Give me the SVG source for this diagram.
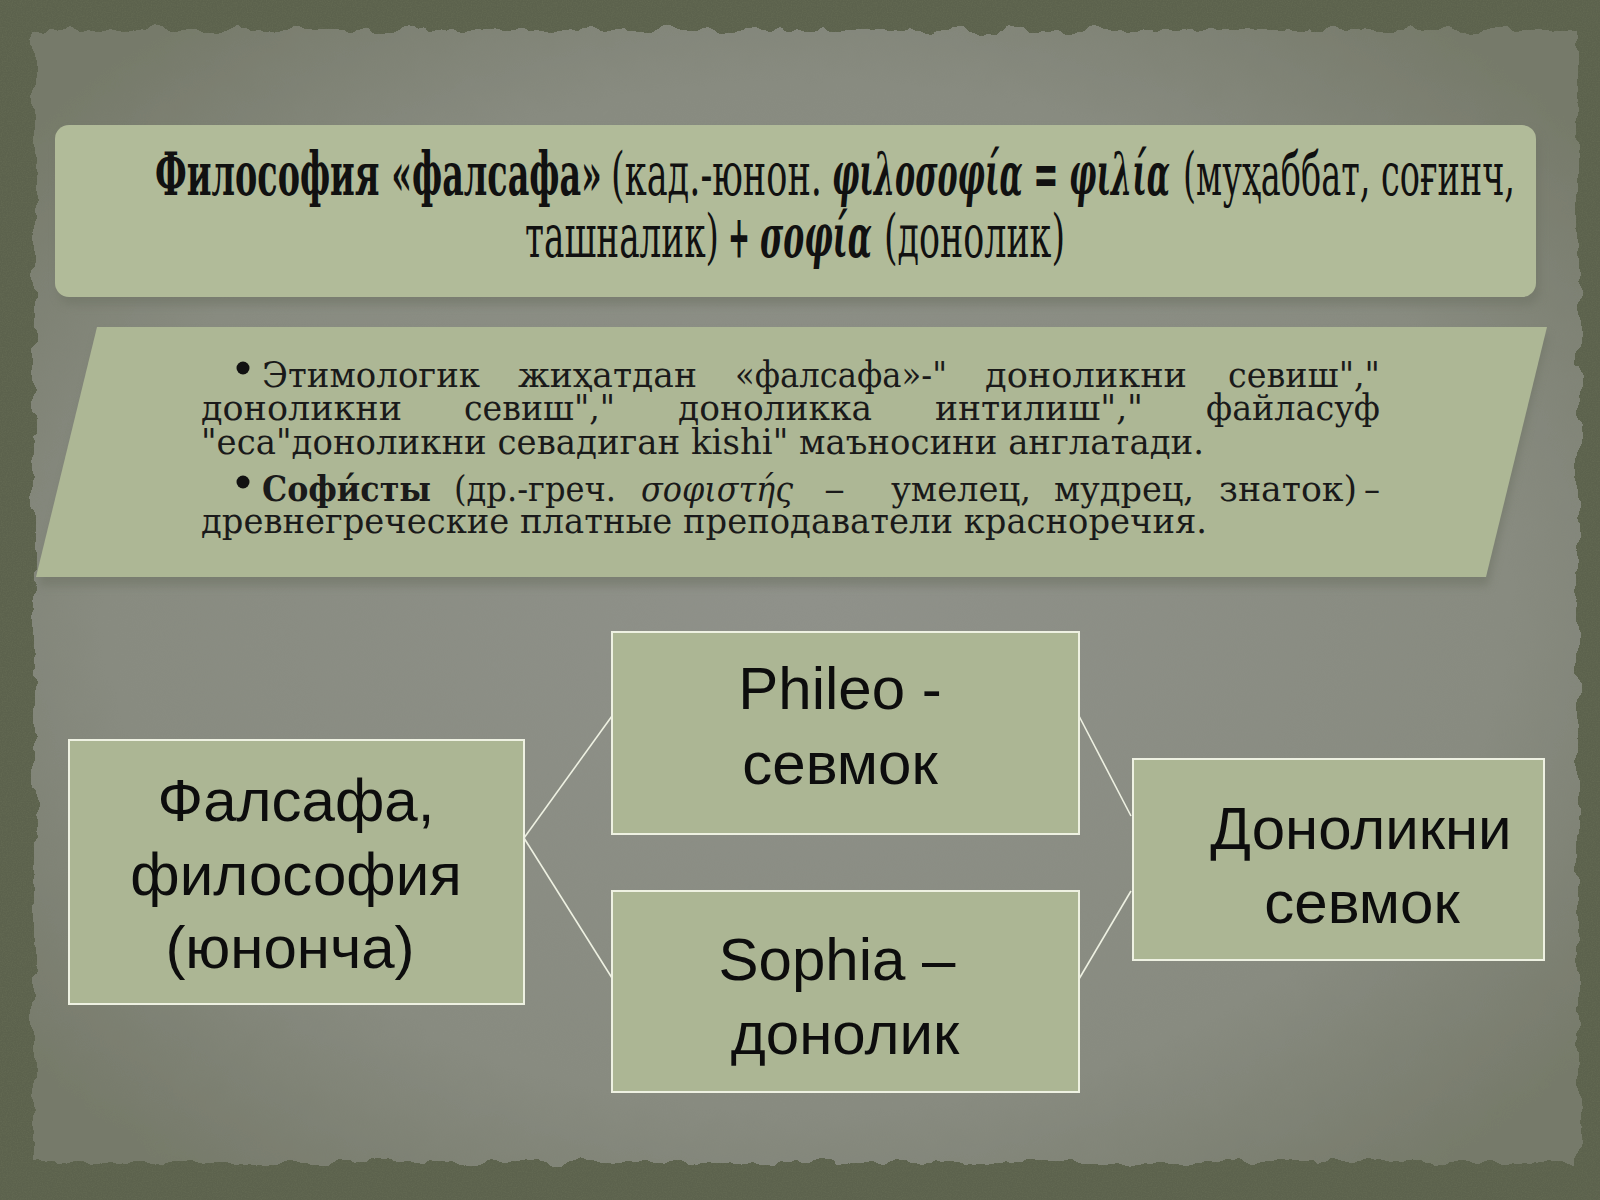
<svg xmlns="http://www.w3.org/2000/svg" width="1600" height="1200" viewBox="0 0 1600 1200">
<defs>
<style>
.ttl{font-family:"DejaVu Serif","Liberation Serif",serif;font-size:60px;fill:#111;}
.b{font-weight:bold;}
.gi{font-weight:bold;font-style:italic;}
.bt{font-family:"DejaVu Serif","Liberation Serif",serif;font-size:36px;fill:#1a1a1a;}
.nt{font-family:"Liberation Sans",Arial,sans-serif;font-size:60px;fill:#0d0d0d;text-anchor:middle;}
.node{fill:#acb694;stroke:#eef1e2;stroke-width:2;}
.con{stroke:#eef1e2;stroke-width:1.6;fill:none;}
</style>
<radialGradient id="paperG" cx="50%" cy="50%" r="65%">
<stop offset="0" stop-color="#8f918a"/>
<stop offset="0.7" stop-color="#888b80"/>
<stop offset="1" stop-color="#767a6a"/>
</radialGradient>
<filter id="torn" x="-5%" y="-5%" width="110%" height="110%">
<feTurbulence type="fractalNoise" baseFrequency="0.035" numOctaves="3" seed="7" result="n"/>
<feDisplacementMap in="SourceGraphic" in2="n" scale="18" xChannelSelector="R" yChannelSelector="G"/>
</filter>
<filter id="grain" x="0" y="0" width="100%" height="100%">
<feTurbulence type="fractalNoise" baseFrequency="0.8" numOctaves="2" seed="2"/>
<feColorMatrix type="matrix" values="0 0 0 0 0.15  0 0 0 0 0.17  0 0 0 0 0.1  0.9 0 0 0 -0.35"/>
</filter>
<filter id="soft" x="-5%" y="-20%" width="110%" height="140%">
<feGaussianBlur stdDeviation="4"/>
</filter>
</defs>

<rect x="0" y="0" width="1600" height="1200" fill="#5c624d"/>
<rect x="0" y="0" width="1600" height="1200" filter="url(#grain)"/>

<g id="paper">
<rect x="34" y="30" width="1544" height="1132" fill="url(#paperG)" filter="url(#torn)"/>
</g>

<g id="title">
<rect x="58" y="131" width="1482" height="174" rx="14" fill="#6f7566" opacity="0.6" filter="url(#soft)"/>
<rect x="55" y="125" width="1481" height="172" rx="14" fill="#b1bb99"/>
<text class="ttl b" x="155" y="195" textLength="447" lengthAdjust="spacingAndGlyphs">Философия «фалсафа»</text>
<text class="ttl" x="611" y="195" textLength="211" lengthAdjust="spacingAndGlyphs">(кад.-юнон.</text>
<text class="ttl gi" x="832" y="195" textLength="338" lengthAdjust="spacingAndGlyphs">φιλοσοφία = φιλία</text>
<text class="ttl" x="1183" y="195" textLength="332" lengthAdjust="spacingAndGlyphs">(муҳаббат, соғинч,</text>
<text class="ttl" x="525" y="257" textLength="194" lengthAdjust="spacingAndGlyphs">ташналик)</text>
<text class="ttl b" x="728" y="257" textLength="22" lengthAdjust="spacingAndGlyphs">+</text>
<text class="ttl gi" x="760" y="257" textLength="112" lengthAdjust="spacingAndGlyphs">σοφία</text>
<text class="ttl" x="884" y="257" textLength="181" lengthAdjust="spacingAndGlyphs">(донолик)</text>
</g>

<g id="bullets">
<polygon points="99,334 1548,334 1488,586 38,586" fill="#6f7566" opacity="0.6" filter="url(#soft)"/>
<polygon points="97,327 1547,327 1486,577 36,577" fill="#adb795"/>
<circle cx="243" cy="368" r="6.5" fill="#111"/>
<text class="bt" x="262" y="387" textLength="218" lengthAdjust="spacingAndGlyphs">Этимологик</text>
<text class="bt" x="518" y="387" textLength="179" lengthAdjust="spacingAndGlyphs">жиҳатдан</text>
<text class="bt" x="735" y="387" textLength="212" lengthAdjust="spacingAndGlyphs">«фалсафа»-"</text>
<text class="bt" x="985" y="387" textLength="202" lengthAdjust="spacingAndGlyphs">доноликни</text>
<text class="bt" x="1228" y="387" textLength="152" lengthAdjust="spacingAndGlyphs">севиш","</text>
<text class="bt" x="201" y="420" textLength="201" lengthAdjust="spacingAndGlyphs">доноликни</text>
<text class="bt" x="464" y="420" textLength="151" lengthAdjust="spacingAndGlyphs">севиш","</text>
<text class="bt" x="678" y="420" textLength="194" lengthAdjust="spacingAndGlyphs">доноликка</text>
<text class="bt" x="935" y="420" textLength="208" lengthAdjust="spacingAndGlyphs">интилиш","</text>
<text class="bt" x="1206" y="420" textLength="174" lengthAdjust="spacingAndGlyphs">файласуф</text>
<text class="bt" x="201" y="454" textLength="1003" lengthAdjust="spacingAndGlyphs">"еса"доноликни севадиган kishi" маъносини англатади.</text>
<circle cx="243" cy="482" r="6.5" fill="#111"/>
<text class="bt b" x="262" y="501" textLength="169" lengthAdjust="spacingAndGlyphs">Софи́сты</text>
<text class="bt" x="454" y="501" textLength="162" lengthAdjust="spacingAndGlyphs">(др.-греч.</text>
<text class="bt" x="641" y="501" textLength="152" lengthAdjust="spacingAndGlyphs" font-style="italic">σοφιστής</text>
<text class="bt" x="824" y="501" textLength="21" lengthAdjust="spacingAndGlyphs">–</text>
<text class="bt" x="891" y="501" textLength="140" lengthAdjust="spacingAndGlyphs">умелец,</text>
<text class="bt" x="1054" y="501" textLength="140" lengthAdjust="spacingAndGlyphs">мудрец,</text>
<text class="bt" x="1219" y="501" textLength="138" lengthAdjust="spacingAndGlyphs">знаток)</text>
<text class="bt" x="1364" y="501" textLength="16" lengthAdjust="spacingAndGlyphs">–</text>
<text class="bt" x="201" y="533" textLength="1006" lengthAdjust="spacingAndGlyphs">древнегреческие платные преподаватели красноречия.</text>
</g>

<g id="connectors">
<line class="con" x1="524" y1="838" x2="612" y2="716"/>
<line class="con" x1="524" y1="838" x2="612" y2="978"/>
<line class="con" x1="1079" y1="716" x2="1131" y2="816"/>
<line class="con" x1="1079" y1="979" x2="1131" y2="891"/>
</g>

<g id="node-falsafa">
<rect class="node" x="69" y="740" width="455" height="264"/>
<text class="nt" x="296" y="821">Фалсафа,</text>
<text class="nt" x="296" y="895">философия</text>
<text class="nt" x="290" y="968">(юнонча)</text>
</g>

<g id="node-phileo">
<rect class="node" x="612" y="632" width="467" height="202"/>
<text class="nt" x="840" y="709">Phileo -</text>
<text class="nt" x="840" y="784">севмок</text>
</g>

<g id="node-sophia">
<rect class="node" x="612" y="891" width="467" height="201"/>
<text class="nt" x="837" y="980">Sophia –</text>
<text class="nt" x="845" y="1054">донолик</text>
</g>

<g id="node-donolik">
<rect class="node" x="1133" y="759" width="411" height="201"/>
<text class="nt" x="1361" y="849">Доноликни</text>
<text class="nt" x="1362" y="923">севмок</text>
</g>
</svg>
